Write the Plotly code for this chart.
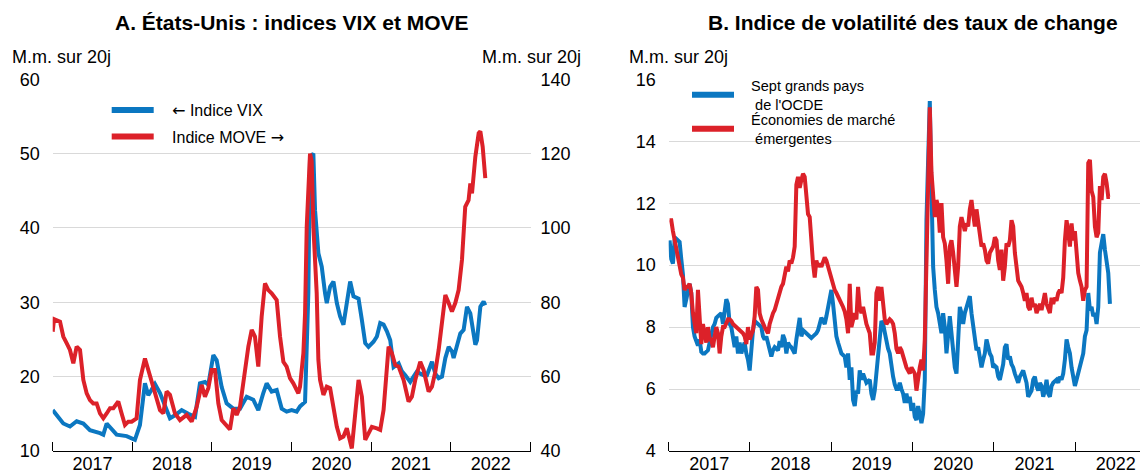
import pandas as pd
import plotly.graph_objects as go

# ---------------- DATA ----------------
# Panel A: US VIX (left axis) and MOVE (right axis), 20-day moving averages
# time is given in decimal years
vix_t = [2017.000, 2017.071, 2017.133, 2017.217, 2017.301, 2017.385, 2017.468, 2017.594, 2017.636, 2017.678, 2017.803, 2017.929,
         2018.033, 2018.096, 2018.159, 2018.201, 2018.285, 2018.348, 2018.431, 2018.473, 2018.536, 2018.620, 2018.704, 2018.788, 2018.850, 2018.913, 2018.955,
         2019.018, 2019.060, 2019.123, 2019.185, 2019.269, 2019.353, 2019.437, 2019.520, 2019.583, 2019.646, 2019.688, 2019.751, 2019.814, 2019.877, 2019.939,
         2020.002, 2020.065, 2020.107, 2020.170, 2020.211, 2020.232, 2020.274, 2020.295, 2020.337, 2020.379, 2020.421, 2020.442, 2020.484, 2020.526, 2020.568, 2020.609, 2020.651, 2020.693, 2020.735, 2020.777, 2020.840, 2020.882, 2020.924, 2020.965,
         2021.028, 2021.070, 2021.112, 2021.154, 2021.196, 2021.238, 2021.280, 2021.343, 2021.385, 2021.427, 2021.489, 2021.531, 2021.573, 2021.615, 2021.657, 2021.699, 2021.762, 2021.804, 2021.846, 2021.888, 2021.930, 2021.972,
         2022.013, 2022.034, 2022.076, 2022.118, 2022.160, 2022.202, 2022.244, 2022.286, 2022.307, 2022.328, 2022.370, 2022.411, 2022.432]
vix = [15.5, 14.6, 13.7, 13.3, 14.0, 13.7, 12.8, 12.4, 12.2, 13.7, 12.2, 12.0,
       11.5, 13.5, 19.1, 17.5, 19.0, 17.8, 15.7, 14.4, 14.8, 15.5, 15.0, 14.6, 19.1, 19.3, 18.9,
       22.9, 22.2, 18.6, 16.4, 15.7, 15.7, 17.3, 16.9, 15.5, 17.8, 19.1, 18.0, 18.2, 15.7, 15.3,
       15.5, 15.3, 16.0, 16.6, 31.2, 49.6, 50.0, 42.4, 36.6, 34.8, 31.2, 29.9, 32.1, 32.8, 29.9, 28.1, 27.0, 30.3, 32.8, 30.8, 30.5, 27.6, 24.5, 24.0,
       24.7, 25.4, 27.2, 27.0, 26.1, 24.9, 21.3, 21.8, 20.7, 20.2, 19.3, 20.0, 20.7, 20.4, 20.2, 20.2, 22.0, 20.4, 19.8, 20.0, 22.5, 24.0,
       23.4, 22.5, 24.0, 25.8, 26.3, 29.4, 28.5, 25.8, 24.3, 24.9, 29.4, 30.1, 29.6]

move_t = [2017.000, 2017.017, 2017.092, 2017.133, 2017.175, 2017.217, 2017.259, 2017.301, 2017.343, 2017.385, 2017.427, 2017.468, 2017.510, 2017.552, 2017.594, 2017.636, 2017.678, 2017.720, 2017.762, 2017.824, 2017.866, 2017.908, 2017.950, 2017.992,
          2018.054, 2018.096, 2018.159, 2018.201, 2018.243, 2018.285, 2018.348, 2018.390, 2018.431, 2018.473, 2018.536, 2018.599, 2018.683, 2018.746, 2018.809, 2018.871, 2018.913, 2018.955, 2018.997,
          2019.039, 2019.081, 2019.123, 2019.185, 2019.227, 2019.269, 2019.311, 2019.353, 2019.416, 2019.458, 2019.500, 2019.541, 2019.583, 2019.625, 2019.667, 2019.709, 2019.751, 2019.814, 2019.856, 2019.898, 2019.939, 2019.981,
          2020.023, 2020.065, 2020.086, 2020.107, 2020.149, 2020.170, 2020.191, 2020.232, 2020.253, 2020.274, 2020.316, 2020.337, 2020.358, 2020.400, 2020.442, 2020.484, 2020.526, 2020.568, 2020.609, 2020.651, 2020.693, 2020.756, 2020.840, 2020.882, 2020.924, 2020.965,
          2021.007, 2021.070, 2021.112, 2021.154, 2021.217, 2021.259, 2021.301, 2021.343, 2021.406, 2021.468, 2021.510, 2021.552, 2021.615, 2021.657, 2021.720, 2021.762, 2021.804, 2021.846, 2021.888, 2021.930, 2021.972,
          2022.013, 2022.055, 2022.097, 2022.139, 2022.180, 2022.222, 2022.244, 2022.265, 2022.307, 2022.349, 2022.370, 2022.399, 2022.432]
move = [72.1, 75.5, 74.8, 70.8, 69.0, 67.2, 63.6, 68.1, 67.2, 59.1, 55.5, 53.7, 52.8, 52.8, 50.1, 48.8, 50.1, 51.5, 51.5, 53.3, 50.1, 47.0, 47.9, 47.9,
        48.8, 59.1, 64.9, 61.8, 57.8, 55.5, 51.0, 50.1, 56.0, 55.1, 50.1, 48.3, 49.7, 47.9, 51.9, 57.8, 54.6, 56.9, 61.8,
        61.8, 52.8, 48.3, 47.0, 45.8, 51.5, 49.7, 51.9, 62.7, 68.1, 72.6, 70.8, 62.7, 76.1, 85.1, 83.3, 82.4, 80.6, 70.8, 64.0, 62.7, 59.6,
        58.2, 56.4, 55.5, 57.3, 66.3, 77.0, 100.4, 120.0, 118.0, 100.4, 82.4, 64.5, 59.1, 55.1, 57.3, 56.9, 51.0, 46.5, 43.4, 43.9, 46.1, 40.7, 59.1, 54.6, 43.0, 44.8,
        46.5, 46.1, 45.7, 51.0, 68.1, 66.3, 63.1, 62.7, 59.1, 53.3, 54.6, 59.1, 64.0, 61.8, 56.0, 57.3, 61.3, 67.2, 75.2, 82.0, 79.8,
        77.5, 79.8, 83.3, 91.4, 105.7, 107.5, 112.0, 109.3, 119.2, 125.5, 126.0, 121.9, 113.4]

# Panel B: FX volatility index, 20-day m.a., sampled about every 7.5 days
fx_start, fx_end = "2017-01-05", "2022-06-06"
g7 = [10.8, 10.2, 10.05, 10.8, 10.85, 10.8, 10.75, 10.2, 9.7, 8.65,
      8.9, 9.1, 9.4, 9.1, 8.0, 7.7, 7.5, 7.4, 7.6, 7.2,
      7.15, 7.15, 7.2, 7.25, 7.5, 7.8, 8.0, 8.1, 8.3, 8.35,
      8.4, 8.45, 8.1, 8.65, 8.9, 8.75, 8.1, 8.0, 7.7, 7.35,
      7.7, 7.15, 7.5, 7.15, 7.35, 7.5, 7.15, 6.95, 6.6, 7.5,
      7.9, 8.2, 8.15, 8.1, 8.05, 8.0, 7.7, 7.6, 7.7, 7.5,
      7.3, 7.05, 7.25, 7.35, 7.3, 7.25, 7.55, 7.35, 7.75, 7.6,
      7.15, 7.5, 7.4, 7.35, 7.25, 7.15, 7.6, 8.0, 8.3, 7.7,
      7.9, 7.85, 7.8, 7.75, 7.7, 7.65, 7.7, 7.75, 7.8, 7.9,
      8.1, 8.3, 8.2, 8.1, 8.35, 8.65, 8.95, 9.2, 8.75, 8.1,
      7.7, 7.5, 7.35, 7.15, 7.1, 7.05, 6.7, 7.15, 6.3, 6.7,
      5.65, 5.45, 5.95, 5.85, 6.6, 6.3, 6.5, 6.35, 6.2, 6.25,
      6.3, 5.85, 5.65, 5.95, 6.5, 7.15, 7.8, 8.2, 8.1, 7.8,
      7.45, 7.3, 7.15, 6.7, 6.4, 6.15, 6.0,
      6.0, 6.2, 6.0, 5.85, 5.55, 5.85, 5.55, 5.75, 5.3, 5.55,
      5.1, 5.0, 5.45, 5.2, 4.9, 5.2, 6.3, 11.45, 14.0, 15.3,
      12.5, 9.95, 9.2, 8.65, 8.45, 8.0, 7.8, 8.45, 8.0, 7.15,
      7.9, 8.35, 7.8, 7.15, 6.7, 6.5, 7.5, 8.65, 8.45, 8.1,
      8.45, 8.65, 8.9, 9.0, 8.45, 8.0, 7.7, 7.25, 7.35, 7.05,
      6.7, 6.95, 7.15, 7.6, 7.35, 7.15, 7.05, 6.7, 6.75, 6.7,
      6.4, 6.3, 6.55, 6.8, 7.35, 7.45, 6.95, 7.05, 6.8, 6.7,
      6.5, 6.3, 6.2, 6.4, 6.5, 6.6, 6.4, 6.2, 5.75, 5.85,
      5.95, 6.3, 6.4, 6.1, 5.95, 6.2, 6.1, 5.75, 5.95, 6.3,
      5.85, 5.75, 6.1, 6.2, 6.25, 6.3, 6.2, 6.4, 6.3, 6.5,
      6.95, 7.6, 7.35, 7.15, 6.7, 6.3, 6.1, 6.3, 6.5, 6.8,
      6.95, 7.15, 7.7, 7.9, 9.1, 8.55, 8.65, 8.35, 8.45, 8.1,
      8.65, 10.4, 10.7, 11.0, 10.5, 10.2, 9.75, 8.75]
eme = [11.45, 11.45, 11.1, 10.8, 10.6, 10.3, 10.05, 9.7, 9.6, 9.2,
       9.3, 9.3, 9.4, 9.1, 8.45, 8.1, 7.8, 9.2, 8.45, 7.45,
       8.1, 7.7, 7.5, 8.0, 7.6, 7.6, 7.35, 7.7, 8.0, 7.8,
       7.15, 7.7, 8.0, 8.0, 8.1, 8.25, 8.25, 8.2, 8.1, 8.05,
       8.0, 7.95, 7.9, 7.85, 7.8, 7.7, 7.45, 8.0, 7.6, 7.75,
       7.9, 8.35, 9.3, 9.2, 8.45, 8.25, 8.1, 8.0, 7.9, 7.8,
       8.1, 8.35, 8.45, 8.55, 8.75, 8.95, 9.2, 9.3, 9.4, 9.7,
       9.95, 9.8, 10.15, 10.05, 10.25, 10.6, 12.6, 12.85, 12.5, 12.75,
       12.95, 12.85, 12.1, 11.65, 11.55, 10.6, 10.05, 9.6, 10.15, 9.95,
       10.05, 9.95, 10.15, 10.25, 10.15, 9.95, 9.7, 9.5, 9.3, 9.2,
       9.1, 9.0, 8.85, 8.75, 8.65, 8.5, 8.25, 7.8, 9.4, 8.0,
       8.25, 8.45, 8.25, 9.3, 8.65, 8.45, 8.65, 8.35, 8.1, 7.95,
       7.8, 7.15, 7.15, 7.5, 9.1, 9.3, 8.85, 9.3, 8.65, 8.25,
       8.1, 8.2, 8.25, 8.2, 8.1, 7.8, 7.3,
       7.15, 7.35, 7.25, 7.05, 6.95, 6.7, 6.6, 6.5, 6.7, 6.6,
       6.5, 5.95, 6.4, 6.7, 6.95, 6.6, 7.6, 10.0, 13.8, 15.1,
       13.0, 12.0, 11.55, 12.1, 11.9, 11.05, 12.0, 10.9, 10.7, 10.15,
       9.4, 10.6, 10.8, 10.4, 9.75, 9.3, 9.95, 11.25, 11.55, 11.25,
       11.1, 11.35, 11.25, 11.8, 12.1, 11.65, 11.25, 11.8, 11.45, 11.05,
       10.6, 10.7, 10.5, 10.15, 10.05, 10.4, 10.5, 10.6, 10.9, 10.8,
       10.15, 9.85, 10.5, 9.5, 9.95, 10.7, 10.6, 10.8, 11.45, 11.25,
       10.4, 9.85, 9.5, 9.4, 9.3, 9.1, 8.85, 9.1, 8.65, 8.55,
       8.95, 8.65, 8.75, 8.45, 8.65, 8.75, 8.55, 8.85, 9.1, 8.75,
       8.55, 8.45, 8.95, 8.75, 8.95, 8.85, 9.1, 9.2, 9.1, 9.6,
       10.8, 11.45, 11.05, 10.6, 11.35, 10.8, 11.1, 10.15, 9.75, 9.5,
       9.3, 8.85, 9.2, 9.3, 13.3, 13.4, 12.4, 12.2, 11.25, 10.9,
       11.05, 12.55, 12.1, 12.85, 12.95, 12.65, 12.2, 12.2]

left_title = "A. États-Unis : indices VIX et MOVE"
right_title = "B. Indice de volatilité des taux de change"
unit = "M.m. sur 20j"
names = ["← Indice VIX", "Indice MOVE →", "Sept grands pays<br> de l'OCDE", "Économies de marché<br> émergentes"]

# ---------------- STYLE ----------------
BLUE = "#0b77c1"
RED = "#dc2129"
GRID = "#d9d9d9"
FONT = "Liberation Sans, Arial, sans-serif"
ARROW_FONT = "DejaVu Sans"
# the page body adds an 8 px margin: the figure is sized to fill the rest of the window
OFF = 8
W, H = 1148 - OFF, 474 - OFF


def to_date(v):
    y = int(v)
    a = pd.Timestamp(year=y, month=1, day=1)
    b = pd.Timestamp(year=y + 1, month=1, day=1)
    return a + (b - a) * (v - y)


def px(x):
    return (x - OFF) / W


def py(y):
    return 1 - (y - OFF) / H


def arrows(s):
    for a in ("←", "→"):
        s = s.replace(a, "<span style=\"font-family:'%s'\">%s</span>" % (ARROW_FONT, a))
    return s


vix_dates = [to_date(v) for v in vix_t]
move_dates = [to_date(v) for v in move_t]
fx_dates = pd.date_range(fx_start, fx_end, periods=len(g7))

fig = go.Figure()
fig.add_trace(go.Scatter(x=vix_dates, y=vix, mode="lines", line=dict(color=BLUE, width=4),
                         xaxis="x", yaxis="y", showlegend=False, hoverinfo="skip"))
fig.add_trace(go.Scatter(x=move_dates, y=move, mode="lines", line=dict(color=RED, width=4),
                         xaxis="x", yaxis="y2", showlegend=False, hoverinfo="skip"))
fig.add_trace(go.Scatter(x=fx_dates, y=g7, mode="lines", line=dict(color=BLUE, width=4),
                         xaxis="x2", yaxis="y3", showlegend=False, hoverinfo="skip"))
fig.add_trace(go.Scatter(x=fx_dates, y=eme, mode="lines", line=dict(color=RED, width=4),
                         xaxis="x2", yaxis="y3", showlegend=False, hoverinfo="skip"))

# legend entries
pad = "\u00a0\u00a0\u00a0"
leg_names = [pad + arrows(names[0]), pad + arrows(names[1]),
             pad + names[2].replace("<br> ", "<br>" + pad + "\u00a0"),
             pad + names[3].replace("<br> ", "<br>" + pad + "\u00a0")]
leg_cols = [BLUE, RED, BLUE, RED]
leg_ids = ["legend", "legend2", "legend3", "legend4"]
leg_axes = [("x", "y"), ("x", "y"), ("x2", "y3"), ("x2", "y3")]
for nm, col, lid, (xa, ya) in zip(leg_names, leg_cols, leg_ids, leg_axes):
    fig.add_trace(go.Scatter(x=[None], y=[None], mode="lines", name=nm,
                             line=dict(color=col, width=6), legend=lid,
                             xaxis=xa, yaxis=ya, showlegend=True))

ydom = [py(451), py(79.3)]
tickfont = dict(family=FONT, size=18, color="#000")

xcommon = dict(type="date", showline=True, linecolor="#000", linewidth=1.3,
               ticks="inside", ticklen=9, tickwidth=1.2, tickcolor="#000",
               dtick="M12", tick0="2017-01-01", ticklabelmode="period", tickformat="%Y",
               showgrid=False, zeroline=False, tickfont=tickfont, fixedrange=True,
               automargin=False, ticklabelstandoff=-4)
ycommon = dict(zeroline=False, showline=False, ticks="", tickfont=tickfont, automargin=False)

fig.update_layout(
    width=W, height=H,
    margin=dict(l=0, r=0, t=0, b=0, pad=0, autoexpand=False),
    paper_bgcolor="white", plot_bgcolor="white",
    font=dict(family=FONT, color="#000"),
    xaxis=dict(domain=[px(52.7), px(530.5)], anchor="y",
               range=["2017-01-01", "2023-01-01"], **xcommon),
    yaxis=dict(domain=ydom, anchor="x", range=[10, 60], dtick=10, tick0=10,
               showgrid=True, gridcolor=GRID, gridwidth=1, ticklabelstandoff=12, **ycommon),
    yaxis2=dict(overlaying="y", side="right", anchor="x", range=[40, 140], dtick=20, tick0=40,
                showgrid=False, ticklabelstandoff=9, **ycommon),
    xaxis2=dict(domain=[px(668.7), 1.0], anchor="y3",
                range=["2017-01-01", "2022-11-24"], **xcommon),
    yaxis3=dict(domain=ydom, anchor="x2", range=[4, 16], dtick=2, tick0=4,
                showgrid=True, gridcolor=GRID, gridwidth=1, ticklabelstandoff=12, **ycommon),
)

legcommon = dict(xanchor="left", yanchor="middle", bgcolor="rgba(0,0,0,0)", borderwidth=0,
                 itemwidth=42, itemclick=False, itemdoubleclick=False, tracegroupgap=0)
fig.update_layout(
    legend=dict(x=px(106.7), y=py(110), font=dict(family=FONT, size=16, color="#000"), **legcommon),
    legend2=dict(x=px(106.7), y=py(136.7), font=dict(family=FONT, size=16, color="#000"), **legcommon),
    legend3=dict(x=px(687), y=py(95), font=dict(family=FONT, size=14.5, color="#000"), **legcommon),
    legend4=dict(x=px(687), y=py(128.8), font=dict(family=FONT, size=14.5, color="#000"), **legcommon),
)

ann = [
    dict(text="<b>" + left_title + "</b>", x=px(291.6), y=py(22), xanchor="center", yanchor="middle",
         font=dict(family=FONT, size=21, color="#000")),
    dict(text="<b>" + right_title + "</b>", x=px(912.6), y=py(22), xanchor="center", yanchor="middle",
         font=dict(family=FONT, size=21, color="#000")),
    dict(text=unit, x=px(10), y=py(57), xanchor="left", yanchor="middle",
         font=dict(family=FONT, size=18, color="#000")),
    dict(text=unit, x=px(480), y=py(57), xanchor="left", yanchor="middle",
         font=dict(family=FONT, size=18, color="#000")),
    dict(text=unit, x=px(627), y=py(57), xanchor="left", yanchor="middle",
         font=dict(family=FONT, size=18, color="#000")),
]
for a in ann:
    fig.add_annotation(xref="paper", yref="paper", showarrow=False, **a)

fig.write_html("out.html")
